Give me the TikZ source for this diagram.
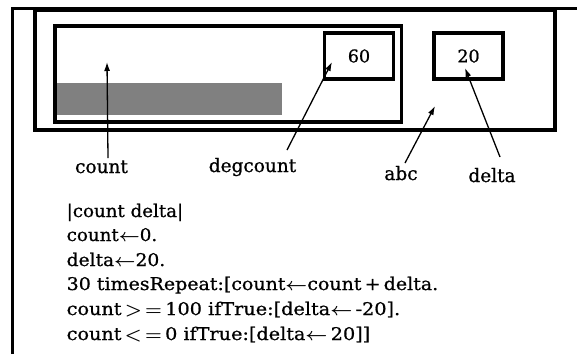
\RequirePackage{fix-cm}
\documentclass[tikz,border=0pt]{standalone}
\usepackage{fontspec}
\setmainfont[FakeBold=0.8]{DejaVu Serif}
\usetikzlibrary{arrows.meta}
% one program line, set to a given width at its natural height
\newcommand\codeline[2]{\resizebox{#1}{\height}{#2}}
\begin{document}
\begin{tikzpicture}[x=1pt,y=-1pt,
  frame/.style={line width=3.5pt},
  valbox/.style={draw,line width=3.5pt,minimum width=69pt,minimum height=46pt,inner sep=0pt,font=\fontsize{17.5}{20}\selectfont},
  lbl/.style={anchor=base,inner sep=0pt,font=\fontsize{18.5}{22}\selectfont},
  code/.style={anchor=base west,inner sep=0pt,font=\fontsize{17.5}{20}\selectfont\boldmath},
  ptr/.style={line width=1.3pt,-{Latex[length=9pt,width=6pt]}}]
\useasboundingbox (0,0) rectangle (577,354);
% outer frame, open at the right and bottom
\draw[line width=2.8pt] (12.5,354) -- (12.5,8.5) -- (577,8.5);
% window frame
\draw[frame] (35,10.5) rectangle (555,130);
% count view with its level bar
\draw[frame] (55,26) rectangle (401.5,122);
\fill[black!50] (57,83) rectangle (282,115);
% value boxes
\node[valbox] (deg) at (359,56) {60};
\node[valbox] (dlt) at (468.5,56) {20};
% labels
\node[lbl] (lcount) at (101.5,173) {count};
\node[lbl] (ldeg) at (252.5,172) {degcount};
\node[lbl] (labc) at (401,180) {abc};
\node[lbl] (ldelta) at (492,182) {delta};
% pointer ends
\coordinate (tcount) at (107,62);
\coordinate (scount) at (108,158);
\coordinate (sdeg) at (287,150);
\coordinate (tdeg) at (332,62);
\coordinate (sabc) at (405,163);
\coordinate (tabc) at (435,106);
\coordinate (sdelta) at (500,157);
\coordinate (tdelta) at (465,68);
\draw[ptr] (scount) -- (tcount);
\draw[ptr] (sdeg) -- (tdeg);
\draw[ptr] (sabc) -- (tabc);
\draw[ptr] (sdelta) -- (tdelta);
% program text
\node[code] (c1) at (66.5,217) {\codeline{116.5pt}{|count delta|}};
\node[code] (c2) at (66.5,241) {\codeline{90.5pt}{count$\leftarrow$0.}};
\node[code] (c3) at (66.5,266) {\codeline{98.5pt}{delta$\leftarrow$20.}};
\node[code] (c4) at (66.5,290) {\codeline{371.5pt}{30 timesRepeat:[count$\leftarrow$count\,+\,delta.}};
\node[code] (c5) at (66.5,315) {\codeline{333.5pt}{count\,$>$\,$=$\,100 ifTrue:[delta$\leftarrow$\,-20].}};
\node[code] (c6) at (66.5,340) {\codeline{303.5pt}{count\,$<$\,$=$\,0 ifTrue:[delta$\leftarrow$\,20]]}};
\end{tikzpicture}
\end{document}
